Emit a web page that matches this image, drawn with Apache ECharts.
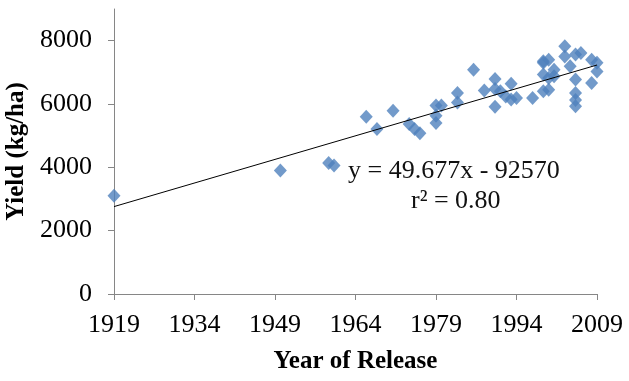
<!DOCTYPE html>
<html>
<head>
<meta charset="utf-8">
<script src="https://cdn.jsdelivr.net/npm/echarts@6/dist/echarts.min.js"></script>
<style>html,body{margin:0;padding:0;background:#fff}#c{width:629px;height:381px}</style>
</head>
<body>
<div id="c"></div>
<script>
var years = [1919,1950,1959,1960,1966,1968,1971,1974,1975,1976,1979,1980,1979,1979,1983,1983,1986,1988,1990,1990,1990,1991,1992,1993,1993,1994,1997,1999,1999,1999,1999,2000,2000,2001,2000,2003,2003,2005,2006,2008,2009,2009,2008,2005,2004,2005,2005,2005,2001];
var yields = [3100,3900,4140,4060,5600,5210,5790,5370,5210,5080,5950,5950,5630,5400,6350,6050,7080,6430,6790,6470,5910,6400,6240,6140,6640,6190,6190,7350,7300,6930,6400,6450,7400,7080,6820,7820,7500,7560,7610,7400,7300,7030,6660,6770,7190,6350,6130,5930,6880];
var xTicks = [1919,1934,1949,1964,1979,1994,2009];
var yTicks = [0,2000,4000,6000,8000];
var slope = 49.677, intercept = -92570;
var eqText = 'y = 49.677x - 92570';
var r2Text = 'r\u00B2 = 0.80';

var pts = years.map(function(y,i){return [y, yields[i]];});
var trend = [xTicks[0], xTicks[xTicks.length-1]].map(function(x){return [x, slope*x+intercept];});
var font = '"Liberation Serif","Times New Roman",serif';
var axisCol = '#868686';
var plain = function(v){return String(v);};

var chart = echarts.init(document.getElementById('c'));
chart.setOption({
  animation:false,
  grid:{left:114,right:32,top:9,bottom:87,containLabel:false,outerBoundsMode:'none'},
  xAxis:{
    type:'value', min:1919, max:2009,
    name:'Year of Release', nameLocation:'middle', nameGap:55,
    nameTextStyle:{fontFamily:font,fontSize:25,fontWeight:'bold',color:'#000'},
    splitLine:{show:false},
    axisLine:{lineStyle:{color:axisCol,width:1}},
    axisTick:{show:true,length:6,lineStyle:{color:axisCol},customValues:xTicks},
    axisLabel:{fontFamily:font,fontSize:26,color:'#000',margin:18,customValues:xTicks,formatter:plain}
  },
  yAxis:{
    type:'value', min:0, max:9000,
    name:'Yield (kg/ha)', nameLocation:'middle', nameGap:82, nameRotate:90,
    nameTextStyle:{fontFamily:font,fontSize:25,fontWeight:'bold',color:'#000'},
    splitLine:{show:false},
    axisLine:{show:true,lineStyle:{color:axisCol,width:1}},
    axisTick:{show:true,length:6,lineStyle:{color:axisCol},customValues:yTicks},
    axisLabel:{fontFamily:font,fontSize:26,color:'#000',margin:22,customValues:yTicks,formatter:plain}
  },
  series:[
    {type:'scatter',data:pts,symbol:'diamond',symbolSize:[13,14],itemStyle:{color:'#4F81BD'},z:2},
    {type:'line',data:trend,symbol:'none',lineStyle:{color:'#000',width:1},z:3}
  ],
  graphic:[
    {type:'text',left:348,top:158,style:{text:eqText,font:'26px '+font,fill:'#111'}},
    {type:'text',left:411,top:188,style:{text:r2Text,font:'26px '+font,fill:'#111'}}
  ]
});
</script>
</body>
</html>
